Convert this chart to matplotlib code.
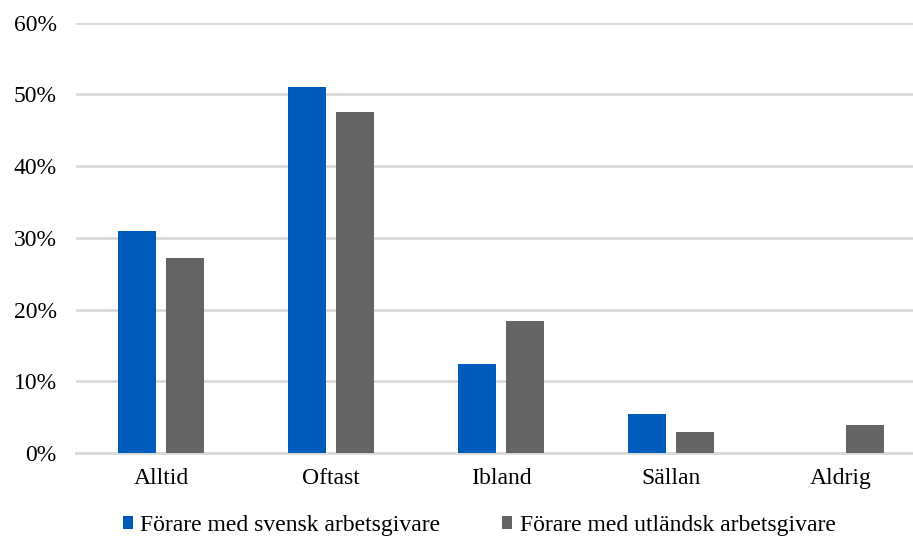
import numpy as np
import matplotlib.pyplot as plt
from matplotlib.ticker import PercentFormatter

categories = ["Alltid", "Oftast", "Ibland", "Sällan", "Aldrig"]
svensk = [31.0, 51.1, 12.4, 5.4, 0.0]
utlandsk = [27.2, 47.6, 18.4, 2.9, 3.9]
series_names = ["Förare med svensk arbetsgivare", "Förare med utländsk arbetsgivare"]

plt.rcParams['font.family'] = ['Liberation Serif', 'DejaVu Serif']

fig = plt.figure(figsize=(9.13, 5.42), dpi=100)
ax = fig.add_axes([0.0833, 0.164, 0.931, 0.794])

x = np.arange(len(categories))
w = 0.224
off = 0.141
ax.bar(x - off, svensk, width=w, color="#005bbb", label=series_names[0], zorder=3)
ax.bar(x + off, utlandsk, width=w, color="#636466", label=series_names[1], zorder=3)

ax.set_xlim(-0.5, len(categories) - 0.5)
ax.set_ylim(0, 60)
ax.set_yticks(np.arange(0, 61, 10))
ax.yaxis.set_major_formatter(PercentFormatter(decimals=0))
ax.set_xticks(x)
ax.set_xticklabels(categories)
ax.tick_params(axis='both', length=0, labelsize=17, colors='black')
ax.tick_params(axis='x', pad=11)
ax.tick_params(axis='y', pad=14)
ax.grid(axis='y', color='#d9d9d9', linewidth=2, zorder=0)
for s in ['top', 'right', 'left']:
    ax.spines[s].set_visible(False)
ax.spines['bottom'].set_color('#d9d9d9')
ax.spines['bottom'].set_linewidth(2)

fig.legend(loc='center left', bbox_to_anchor=(0.111, 0.03), ncol=2, frameon=False,
           fontsize=17, handlelength=0.45, handleheight=0.45, handletextpad=0.3,
           columnspacing=2.6)

fig.savefig("out.png", dpi=100)
